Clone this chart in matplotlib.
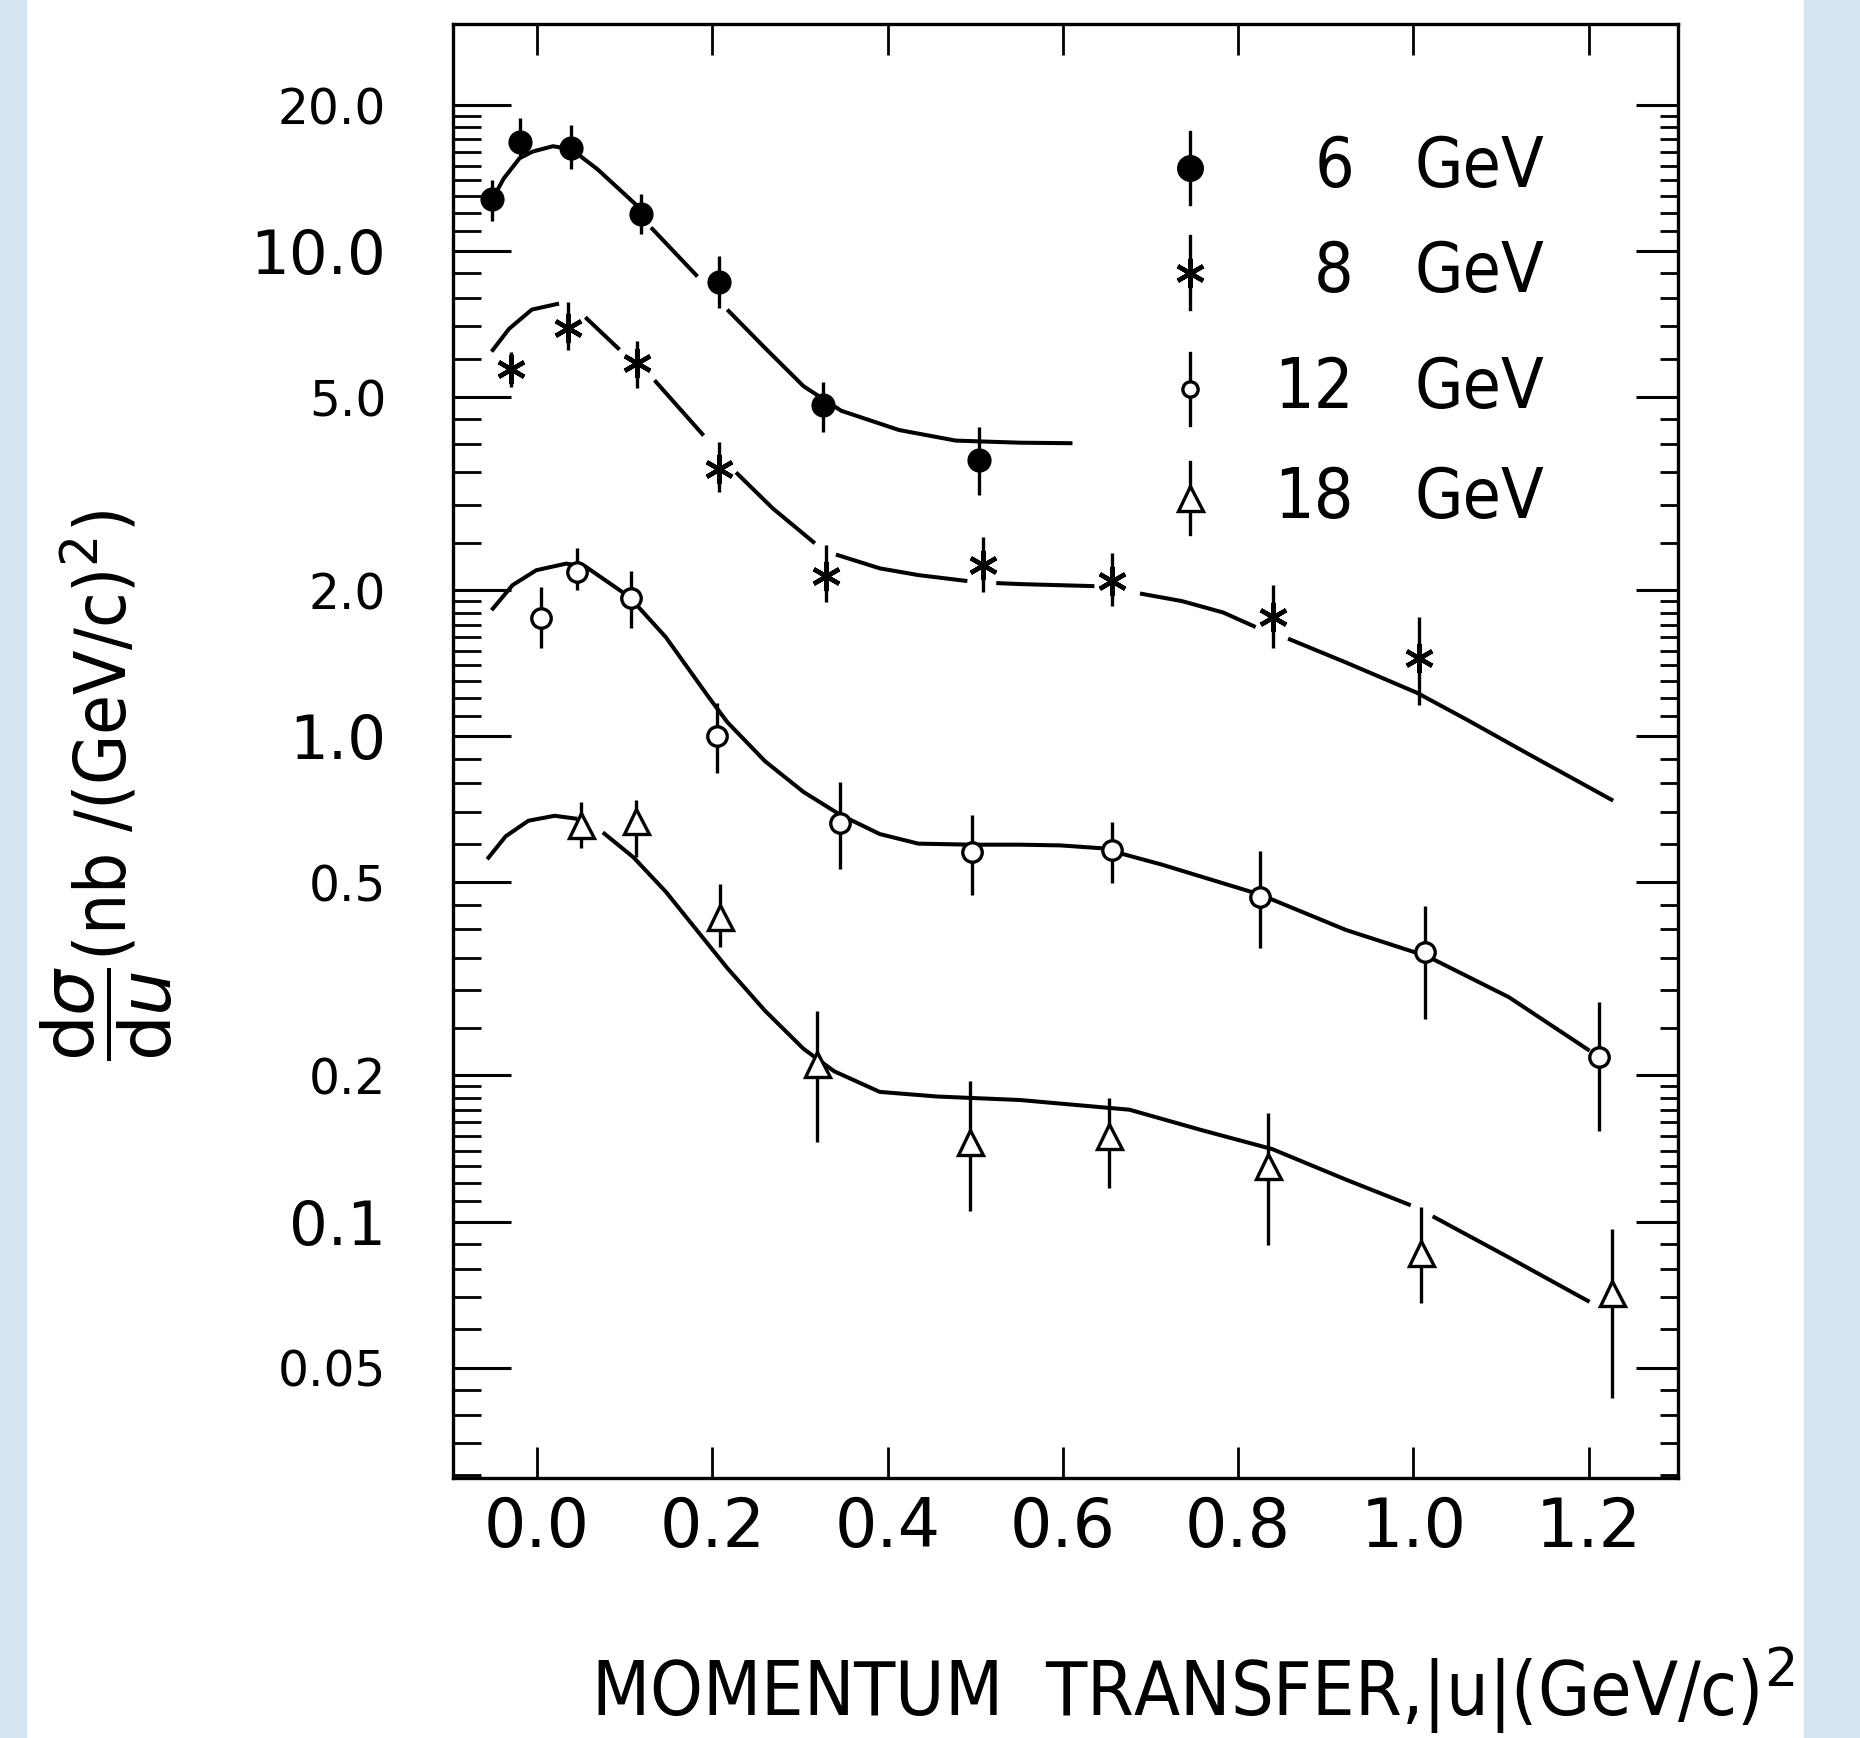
import numpy as np
import matplotlib
matplotlib.use('Agg')
import matplotlib.pyplot as plt
from matplotlib.patches import Rectangle
from matplotlib.ticker import FixedLocator, NullFormatter

# --- data (u in (GeV/c)^2, dsigma/du in nb/(GeV/c)^2) ---
u6 = [-0.051, -0.019, 0.039, 0.119, 0.208, 0.326, 0.504]
s6 = [12.80, 16.82, 16.29, 11.93, 8.64, 4.83, 3.72]
s6_lo = [11.56, 15.72, 14.75, 10.85, 7.64, 4.24, 3.14]
s6_hi = [13.99, 18.82, 18.22, 13.13, 9.76, 5.37, 4.35]

u8 = [-0.030, 0.035, 0.114, 0.207, 0.330, 0.509, 0.656, 0.840, 1.006]
s8 = [5.73, 6.96, 5.87, 3.55, 2.14, 2.25, 2.09, 1.76, 1.45]
s8_lo = [5.26, 6.27, 5.22, 3.19, 1.89, 1.98, 1.86, 1.52, 1.16]
s8_hi = [6.20, 7.85, 6.54, 4.05, 2.48, 2.58, 2.39, 2.05, 1.76]

u12 = [0.004, 0.046, 0.107, 0.205, 0.346, 0.496, 0.656, 0.825, 1.013, 1.212]
s12 = [1.75, 2.18, 1.93, 1.00, 0.664, 0.577, 0.582, 0.466, 0.360, 0.218]
s12_lo = [1.52, 2.00, 1.67, 0.842, 0.533, 0.470, 0.499, 0.366, 0.262, 0.154]
s12_hi = [2.03, 2.44, 2.19, 1.17, 0.804, 0.688, 0.667, 0.580, 0.448, 0.284]

u18 = [0.050, 0.113, 0.209, 0.319, 0.494, 0.653, 0.834, 1.009, 1.227]
s18 = [0.657, 0.669, 0.425, 0.211, 0.146, 0.150, 0.130, 0.0861, 0.0712]
s18_lo = [0.590, 0.563, 0.368, 0.146, 0.105, 0.117, 0.0895, 0.068, 0.0433]
s18_hi = [0.734, 0.740, 0.496, 0.272, 0.195, 0.180, 0.167, 0.107, 0.0967]

# hand-drawn curves (nan = gap in the drawn line)
cu6 = [-0.051, -0.038, -0.020, -0.005, 0.018, 0.039, 0.069, 0.119, np.nan, 0.130, 0.183, np.nan,
       0.217, 0.260, 0.304, 0.347, 0.413, 0.478, 0.551, 0.611]
cs6 = [12.81, 14.13, 15.55, 16.05, 16.46, 16.23, 14.75, 12.18, np.nan, 11.19, 8.87, np.nan,
       7.58, 6.32, 5.27, 4.69, 4.28, 4.07, 4.03, 4.02]

cu8 = [-0.052, -0.032, -0.006, 0.025, np.nan, 0.055, 0.094, np.nan, 0.134, 0.190, np.nan,
       0.227, 0.269, 0.317, np.nan, 0.341, 0.391, 0.435, 0.491, np.nan, 0.524, 0.551, 0.636, np.nan,
       0.688, 0.736, 0.783, 0.820, np.nan, 0.857, 0.923, 1.004, 1.062, 1.132, 1.228]
cs8 = [6.21, 6.92, 7.58, 7.80, np.nan, 7.31, 6.27, np.nan, 5.42, 4.17, np.nan,
       3.50, 2.95, 2.50, np.nan, 2.37, 2.22, 2.15, 2.09, np.nan, 2.07, 2.06, 2.04, np.nan,
       1.97, 1.90, 1.80, 1.68, np.nan, 1.59, 1.42, 1.23, 1.08, 0.918, 0.737]

cu12 = [-0.052, -0.028, -0.001, 0.033, 0.055, 0.105, 0.147, 0.195, 0.217, 0.260, 0.304, 0.346,
        0.391, 0.435, 0.496, 0.551, 0.597, 0.644, 0.713, 0.825, 0.923, 1.016, 1.109, 1.201]
cs12 = [1.82, 2.05, 2.20, 2.27, 2.24, 1.94, 1.60, 1.21, 1.07, 0.889, 0.768, 0.689,
        0.629, 0.601, 0.598, 0.598, 0.596, 0.588, 0.544, 0.472, 0.399, 0.352, 0.290, 0.225]

cu18 = [-0.057, -0.036, -0.010, 0.020, 0.046, np.nan, 0.075, 0.110, 0.147, 0.182, 0.217, 0.260,
        0.304, 0.339, 0.391, 0.456, 0.551, 0.597, 0.676, 0.760, 0.839, 0.923, 0.997, np.nan,
        1.022, 1.108, 1.201]
cs18 = [0.558, 0.622, 0.670, 0.686, 0.676, np.nan, 0.634, 0.563, 0.478, 0.399, 0.333, 0.272,
        0.227, 0.204, 0.185, 0.181, 0.178, 0.175, 0.170, 0.154, 0.141, 0.122, 0.108, np.nan,
        0.1025, 0.0845, 0.0683]

ytick_vals = [20, 10, 5, 2, 1, 0.5, 0.2, 0.1, 0.05]
ytick_text = ['20.0', '10.0', '5.0', '2.0', '1.0', '0.5', '0.2', '0.1', '0.05']
xtick_vals = [0.0, 0.2, 0.4, 0.6, 0.8, 1.0, 1.2]
xtick_text = ['0.0', '0.2', '0.4', '0.6', '0.8', '1.0', '1.2']
legend_num = ['6', '8', '12', '18']

W, H = 1860, 1738
fig = plt.figure(figsize=(W / 100, H / 100), dpi=100)
fig.patch.set_facecolor('white')
blue = '#d4e6ef'
fig.patches.append(Rectangle((0, 0), 26 / W, 1, transform=fig.transFigure, color=blue, zorder=-5))
fig.patches.append(Rectangle((1804 / W, 0), 56 / W, 1, transform=fig.transFigure, color=blue, zorder=-5))

ax = fig.add_axes([453 / W, 1 - 1478 / H, 1225 / W, 1454 / H])
ax.set_yscale('log')
ax.set_xlim(-0.096, 1.302)
ax.set_ylim(0.0296, 29.4)

for sp in ax.spines.values():
    sp.set_linewidth(2.4)

# log-paper minor ticks
subs = [1.1, 1.2, 1.3, 1.4, 1.5, 1.6, 1.7, 1.8, 1.9, 2.5, 3, 3.5, 4, 4.5, 6, 7, 8, 9]
minor = [s * d for d in [0.01, 0.1, 1, 10] for s in subs]
minor = [m for m in minor if 0.0296 < m < 21]

ax.set_yticks(ytick_vals)
ax.set_yticklabels(ytick_text)
ax.yaxis.set_minor_locator(FixedLocator(minor))
ax.yaxis.set_minor_formatter(NullFormatter())
ax.tick_params(axis='y', which='major', direction='in', length=42, width=2.2, pad=48,
               left=True, right=False)
ax.tick_params(axis='y', which='minor', direction='in', length=20, width=2.0,
               left=True, right=False)
for lab in ax.get_yticklabels():
    big = lab.get_text() in ('10.0', '1.0', '0.1')
    lab.set_fontsize(44 if big else 35)

ax.set_xticks(xtick_vals)
ax.set_xticklabels(xtick_text, fontsize=48)
ax.tick_params(axis='x', which='major', direction='in', length=22, width=2.0, pad=12,
               top=True, bottom=True)

axr = ax.twinx()
axr.set_yscale('log')
axr.set_ylim(ax.get_ylim())
axr.set_yticks(ytick_vals)
axr.yaxis.set_minor_locator(FixedLocator(minor))
axr.yaxis.set_major_formatter(NullFormatter())
axr.yaxis.set_minor_formatter(NullFormatter())
axr.tick_params(axis='y', which='major', direction='in', length=30, width=2.2)
axr.tick_params(axis='y', which='minor', direction='in', length=13, width=2.0)
for sp in axr.spines.values():
    sp.set_visible(False)

lw_curve = 2.9
lw_bar = 2.4
for cu, cs in [(cu6, cs6), (cu8, cs8), (cu12, cs12), (cu18, cs18)]:
    ax.plot(cu, cs, color='k', lw=lw_curve, solid_capstyle='butt', zorder=2)

series = [
    (u6, s6, s6_lo, s6_hi, dict(marker='o', ms=15, mfc='k', mec='k', mew=2.4)),
    (u8, s8, s8_lo, s8_hi, dict(marker=(6, 2, 0), ms=21, mfc='k', mec='k', mew=3.2)),
    (u12, s12, s12_lo, s12_hi, dict(marker='o', ms=14, mfc='white', mec='k', mew=2.4)),
    (u18, s18, s18_lo, s18_hi, dict(marker='^', ms=18, mfc='white', mec='k', mew=2.4)),
]
for u, s, lo, hi, mk in series:
    s = np.array(s)
    yerr = [s - np.array(lo), np.array(hi) - s]
    ax.errorbar(u, s, yerr=yerr, fmt='none', ecolor='k', elinewidth=lw_bar, capsize=0, zorder=3)
    ax.plot(u, s, ls='none', zorder=4, **mk)

# legend drawn by hand, like the original
leg_y = [0.901, 0.829, 0.749, 0.674]
leg_mk = [dict(marker='o', ms=17, mfc='k', mec='k', mew=2.4),
          dict(marker=(6, 2, 0), ms=21, mfc='k', mec='k', mew=3.2),
          dict(marker='o', ms=11, mfc='white', mec='k', mew=2.4),
          dict(marker='^', ms=18, mfc='white', mec='k', mew=2.4)]
for y, num, mk in zip(leg_y, legend_num, leg_mk):
    ax.plot([0.6016, 0.6016], [y - 0.025, y + 0.025], color='k', lw=lw_bar,
            transform=ax.transAxes, zorder=3)
    ax.plot([0.6016], [y], ls='none', transform=ax.transAxes, zorder=4, **mk)
    ax.text(0.7355, y, num, transform=ax.transAxes, ha='right', va='center',
            fontsize=50, fontstretch='condensed')
    ax.text(0.785, y, 'GeV', transform=ax.transAxes, ha='left', va='center',
            fontsize=50, fontstretch='condensed')

fig.text(0.0575, 0.548, r'$\dfrac{\mathrm{d}\sigma}{\mathrm{d}u}$(nb /(GeV/c)$^2$)', rotation=90,
         ha='center', va='center', fontsize=52, fontstretch='condensed')
fig.text(0.641, 0.027, r'MOMENTUM  TRANSFER,|u|(GeV/c)$^2$', ha='center', va='center',
         fontsize=54, fontstretch='condensed')

fig.savefig('out.png', dpi=100, facecolor='white')
